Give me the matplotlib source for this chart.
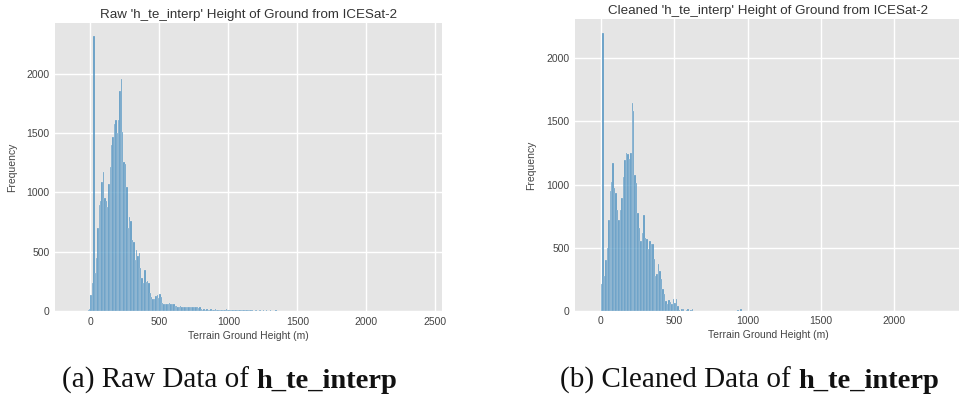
import matplotlib.pyplot as plt
import numpy as np

# Contagens por classe de 10 m
raw_start = -20
raw_counts = [
    8, 20, 134, 235, 2313, 320, 445, 700, 890, 930,
    1087, 1170, 950, 930, 880, 1073, 1213, 1395, 1465, 1577,
    1605, 1500, 1605, 1857, 1955, 1507, 1255, 1240, 1045, 700,
    790, 760, 600, 580, 430, 510, 460, 485, 360, 280,
    233, 345, 246, 250, 233, 150, 120, 100, 98, 130,
    134, 107, 143, 120, 65, 60, 56, 58, 62, 65,
    55, 60, 58, 45, 40,
    38, 36, 40, 34, 37, 33, 35, 38, 32, 34, 36, 30, 33, 31, 35, 29, 30,
    14, 12, 15, 11, 13, 12, 10, 14, 11, 12, 13, 10, 12, 11, 9, 12, 10, 11,
    13, 9, 10, 12, 8, 11, 10, 9, 12, 8, 10, 9, 11, 8, 9, 10, 8,
    6, 5, 7, 4, 6, 5, 4, 6, 5, 3, 5, 4, 6, 3, 4, 5, 3, 4, 3, 5, 2, 3, 4, 2, 3,
]

clean_start = 0
clean_counts = [
    210, 2200, 276, 400, 500, 722, 945, 1024, 1168, 972,
    932, 800, 722, 800, 893, 1063, 1194, 1247, 1240, 1200,
    1247, 1650, 1580, 1076, 1011, 775, 657, 551, 617, 756,
    578, 565, 486, 551, 531, 531, 407, 276, 290, 368,
    315, 250, 171, 131, 79, 53, 87, 71, 53, 92,
    60, 95, 40, 8, 0, 10, 12, 0, 9, 11,
    0, 8, 10,
]
clean_tail_x = [930, 950]
clean_tail_counts = [9, 10]

bin_w = 10

titles = ["Raw 'h_te_interp' Height of Ground from ICESat-2",
          "Cleaned 'h_te_interp' Height of Ground from ICESat-2"]
captions = [("(a) Raw Data of ", "h_te_interp"),
            ("(b) Cleaned Data of ", "h_te_interp")]

plt.rcParams['font.family'] = ['Liberation Sans', 'DejaVu Sans']

fig = plt.figure(figsize=(9.59, 4.01), dpi=100)
ax1 = fig.add_axes([0.0574, 0.2244, 0.4035, 0.718])
ax2 = fig.add_axes([0.5996, 0.2252, 0.4035, 0.7267])

raw_x = raw_start + bin_w * np.arange(len(raw_counts))
clean_x = clean_start + bin_w * np.arange(len(clean_counts))

bar_kw = dict(width=bin_w, align='edge', color='#1f77b4', alpha=0.68,
              edgecolor='#f0f0f0', linewidth=0.25)
ax1.bar(raw_x, raw_counts, **bar_kw)
ax2.bar(clean_x, clean_counts, **bar_kw)
ax2.bar(clean_tail_x, clean_tail_counts, **bar_kw)

ax1.set_xlim(-256, 2549)
ax1.set_ylim(0, 2425)
ax2.set_xlim(-175, 2461)
ax2.set_ylim(0, 2310)
ax1.set_xticks([0, 500, 1000, 1500, 2000, 2500])
ax2.set_xticks([0, 500, 1000, 1500, 2000])
ax1.set_yticks([0, 500, 1000, 1500, 2000])
ax2.set_yticks([0, 500, 1000, 1500, 2000])

for ax, title in zip([ax1, ax2], titles):
    ax.set_facecolor('#e5e5e5')
    ax.set_axisbelow(True)
    ax.grid(True, color='white', linewidth=1.0)
    for s in ax.spines.values():
        s.set_visible(False)
    ax.tick_params(length=0, labelsize=7.5, labelcolor='#444444', pad=4)
    ax.set_title(title, fontsize=9.6, color='#333333', pad=4)
    ax.set_xlabel('Terrain Ground Height (m)', fontsize=7.5, color='#444444', labelpad=3)
    ax.set_ylabel('Frequency', fontsize=7.5, color='#444444', labelpad=7)

# Legendas abaixo dos gráficos
cap_pos = [(0.065, 0.032), (0.584, 0.032)]
for (x, y), (normal, bold) in zip(cap_pos, captions):
    t = fig.text(x, y, normal, fontsize=21, family='Liberation Serif',
                 color='#111111', va='baseline')
    ax1.annotate(bold, xy=(1, 0), xycoords=t, va='bottom', ha='left',
                 fontsize=20.5, family='Liberation Serif', fontweight='bold',
                 color='#111111', annotation_clip=False)

fig.savefig('out.png', dpi=100)
